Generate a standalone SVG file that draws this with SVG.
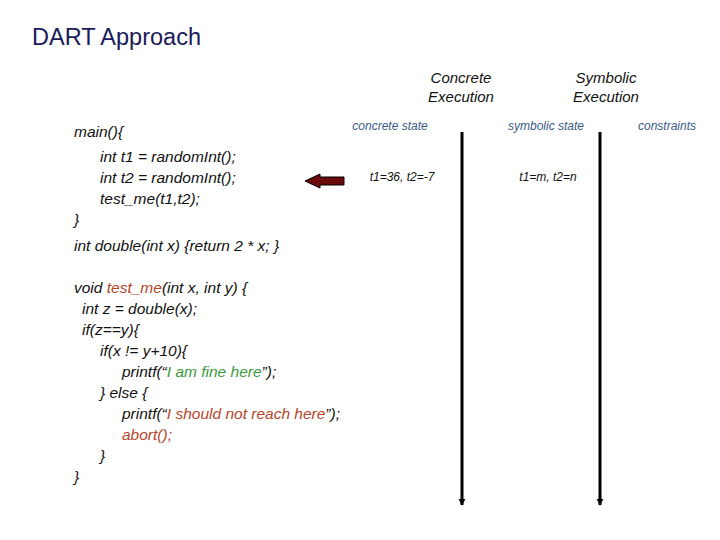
<svg xmlns="http://www.w3.org/2000/svg" width="720" height="540" viewBox="0 0 720 540">
<style>
text{font-family:"Liberation Sans",Arial,sans-serif}
.code{font-size:15.5px;font-style:italic;fill:#111}
.hd{font-size:15px;font-style:italic;fill:#111;text-anchor:middle}
.lab{font-size:12px;font-style:italic;fill:#3a5a8a;text-anchor:middle}
.val{font-size:12px;font-style:italic;fill:#111;text-anchor:middle}
.r{fill:#b5452a}.g{fill:#3a9a3a}
</style>
<defs><marker id="ah" viewBox="0 0 10 10" refX="9" refY="5" markerWidth="7" markerHeight="9" orient="auto" markerUnits="userSpaceOnUse"><path d="M0,0L10,5L0,10z" fill="#000"/></marker></defs>
<rect width="720" height="540" fill="#fff"/>
<text x="32" y="45" font-size="23.5" fill="#1a1a5a">DART Approach</text>
<g id="headers">
<text class="hd" x="461" y="83">Concrete</text><text class="hd" x="461" y="102">Execution</text>
<text class="hd" x="606" y="83">Symbolic</text><text class="hd" x="606" y="102">Execution</text>
<text class="lab" x="390" y="130">concrete state</text>
<text class="lab" x="546" y="130">symbolic state</text>
<text class="lab" x="667" y="130">constraints</text>
<text class="val" x="402" y="181">t1=36, t2=-7</text>
<text class="val" x="548" y="181">t1=m, t2=n</text>
</g>
<g id="code">
<text class="code" x="74" y="137">main(){</text>
<text class="code" x="100" y="162">int t1 = randomInt();</text>
<text class="code" x="100" y="183">int t2 = randomInt();</text>
<text class="code" x="100" y="204">test_me(t1,t2);</text>
<text class="code" x="74" y="225">}</text>
<text class="code" x="74" y="251">int double(int x) {return 2 * x; }</text>
<text class="code" x="74" y="293">void <tspan class="r">test_me</tspan>(int x, int y) {</text>
<text class="code" x="82" y="314">int z = double(x);</text>
<text class="code" x="82" y="335">if(z==y){</text>
<text class="code" x="100" y="356">if(x != y+10){</text>
<text class="code" x="122" y="377">printf(“<tspan class="g">I am fine here</tspan>”);</text>
<text class="code" x="100" y="398">} else {</text>
<text class="code" x="122" y="419">printf(“<tspan class="r">I should not reach here</tspan>”);</text>
<text class="code" x="122" y="440" style="fill:#b5452a">abort();</text>
<text class="code" x="100" y="461">}</text>
<text class="code" x="74" y="482">}</text>
</g>
<g id="connectors" stroke="#000" stroke-width="3">
<line x1="462" y1="132" x2="462" y2="505" marker-end="url(#ah)"/>
<line x1="600" y1="132" x2="600" y2="505" marker-end="url(#ah)"/>
</g>
<g id="pointer">
<path d="M344,177L320,177L320,174L305,181L320,188L320,185L344,185Z" fill="#6b0a0a" stroke="#000" stroke-width="1"/>
</g>
</svg>
